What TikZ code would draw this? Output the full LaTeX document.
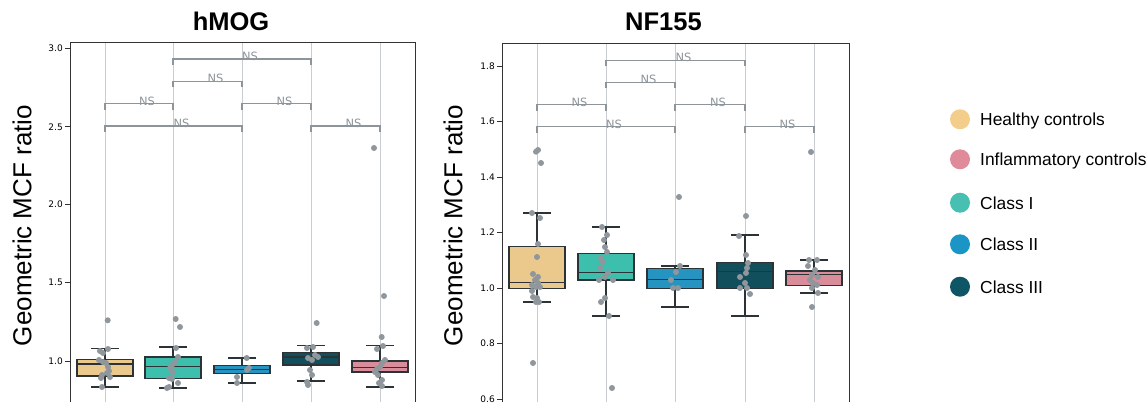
\documentclass[tikz,border=0pt]{standalone}
\usepackage{fontspec}
\setmainfont{Liberation Sans}
\newfontfamily\djv{DejaVu Sans}
\definecolor{hcfill}{HTML}{EBC98C}
\definecolor{c1fill}{HTML}{3DBFAE}
\definecolor{c2fill}{HTML}{2694C1}
\definecolor{c3fill}{HTML}{124F5C}
\definecolor{icfill}{HTML}{D98D9A}
\definecolor{lhc}{HTML}{F3CE8B}
\definecolor{lic}{HTML}{E08B99}
\definecolor{lc1}{HTML}{47BFB1}
\definecolor{lc2}{HTML}{1B94C6}
\definecolor{lc3}{HTML}{0E5566}
\definecolor{edge}{HTML}{2B3337}
\definecolor{dotgray}{HTML}{8F969C}
\definecolor{brkgray}{HTML}{8D959B}
\definecolor{gridgray}{HTML}{C9CDD1}
% one box: x, whisker top, q3, median, q1, whisker bottom, fill
\newcommand{\bxp}[7]{%
  \draw[whisk] (#1,#2) -- (#1,#3) (#1,#5) -- (#1,#6)
    (#1-14,#2) -- (#1+14,#2) (#1-14,#6) -- (#1+14,#6);
  \draw[boxln,fill=#7] (#1-28,#3) rectangle (#1+28,#5);
  \draw[boxln] (#1-28,#4) -- (#1+28,#4);}
% one bracket: x left, x right, y
\newcommand{\nsbrk}[3]{%
  \draw[brk] (#1,#3+6) -- (#1,#3) -- (#2,#3) -- (#2,#3+6);
  \node[nslbl] (ns#1x#2) at ({(#1+#2)/2},#3+1.5) {NS};}
\begin{document}
\begin{tikzpicture}[x=1pt,y=-1pt,
  whisk/.style={draw=edge,line width=1.8pt},
  boxln/.style={draw=edge,line width=1.4pt},
  brk/.style={draw=brkgray,line width=1.2pt},
  nslbl/.style={anchor=base west,inner sep=0pt,text=brkgray,font=\djv\fontsize{11.4}{12}\selectfont},
  gridln/.style={draw=gridgray,line width=1pt},
  axln/.style={draw=black!80,line width=1pt},
  tick/.style={anchor=east,inner sep=0pt,font=\djv\fontsize{9}{10}\selectfont},
  dot/.style={fill=dotgray},
  ylab/.style={rotate=90,font=\fontsize{26}{28}\selectfont},
  ttl/.style={anchor=base,font=\bfseries\fontsize{25.5}{28}\selectfont},
  leg/.style={anchor=base west,inner sep=0pt,font=\fontsize{17.4}{19}\selectfont}]
\useasboundingbox (0,0) rectangle (1148,402);
\fill[white] (0,0) rectangle (1148,402);

% hMOG panel
\foreach \x in {105,173,242,311,380} \draw[gridln] (\x,42) -- (\x,402);
\bxp{105}{348.5}{359.4}{364.1}{375.9}{386.8}{hcfill}
\bxp{173}{346.9}{357.1}{366.5}{378.2}{387.6}{c1fill}
\bxp{242}{357.9}{365.7}{369.6}{373.5}{382.9}{c2fill}
\bxp{311}{345.4}{352.4}{357.1}{364.9}{381.3}{c3fill}
\bxp{380}{345.4}{361}{367.3}{372}{386.8}{icfill}
\foreach \p in {(107.7,320.3),(108,349),(100,351),(103,353),(99,360),(103,362),(106,363),(108,367),(109,371),(107,373),(102,375),(101,378),(110,377),(102,387),
  (175.7,319),(180,327),(176,348),(178,357),(175,362),(172,365),(170,368),(173,372),(169,378),(172,379),(178,383),(169,387),(167,388),
  (246.7,358),(249,368),(247,370),(237,377),(237,383),
  (316.7,323),(313,347),(307,348),(308,358),(312,360),(315,355),(318,357),(310,370),(312,375),(307,382),(308,385),
  (374,148),(384,296),(381.7,337),(383,346),(377,349),(385,360),(382,363),(380,367),(377,369),(375,372),(378,375),(382,380),(379,383),(382,386)}
  \fill[dot] \p circle (3);
\nsbrk{173}{311}{59}
\nsbrk{173}{242}{81.3}
\nsbrk{105}{173}{103.7}
\nsbrk{242}{311}{103.7}
\nsbrk{105}{242}{126}
\nsbrk{311}{380}{126}
\draw[axln] (70,402) -- (70,42) -- (415,42) -- (415,402);
\foreach \v/\yy in {3.0/48,2.5/126.75,2.0/204.5,1.5/282.75,1.0/361}
  {\draw[axln] (65,\yy) -- (70,\yy); \node[tick] at (63,\yy) {\v};}
\node[ylab] (ylabA) at (22,225.5) {Geometric MCF ratio};
\node[ttl] (hmog) at (231,30) {hMOG};

% NF155 panel
\foreach \x in {537,606,675,745,814} \draw[gridln] (\x,43) -- (\x,402);
\bxp{537}{212.7}{246.7}{282.7}{288.3}{302.3}{hcfill}
\bxp{606}{226.7}{253.3}{272.7}{280}{315.7}{c1fill}
\bxp{675}{265.7}{268.3}{279.3}{288.3}{307.3}{c2fill}
\bxp{745}{235.3}{262.7}{271.7}{288.3}{315.7}{c3fill}
\bxp{814}{260}{271}{274.3}{285.7}{293.3}{icfill}
\foreach \p in {(536,151.7),(538,150),(541,163),(533,363),(532,213),(540,218),(538,244),(537,257),(533,274),(538,277),(535,280),(538,283),(532,285),(536,287),(540,287),(532,291),(533,297),(537,298),(536,302),(539,302),
  (602,227),(607,235),(604,240),(605,247),(607,252),(601,258),(603,262),(600,268),(608,273),(605,277),(599,280),(613,280),(605,298),(601,302),(609,316),(612,388),
  (679,197),(680,266),(676,272),(671,280),(673,288),(678,288),
  (746,216),(739,236),(746,255),(748,263),(747,268),(746,273),(740,277),(745,283),(740,288),(747,288),(750,294),
  (811,152),(809,260),(817,260),(808,266),(815,270),(812,275),(818,277),(810,280),(813,283),(817,285),(812,288),(818,293),(812,307)}
  \fill[dot] \p circle (3);
\nsbrk{606}{745}{60.3}
\nsbrk{606}{675}{82.3}
\nsbrk{537}{606}{104.7}
\nsbrk{675}{745}{104.7}
\nsbrk{537}{675}{126.7}
\nsbrk{745}{814}{126.7}
\draw[axln] (502,402) -- (502,43) -- (849,43) -- (849,402);
\foreach \v/\yy in {1.8/66,1.6/121.5,1.4/177,1.2/232.5,1.0/288,0.8/343.5,0.6/399}
  {\draw[axln] (497,\yy) -- (502,\yy); \node[tick] at (495,\yy) {\v};}
\node[ylab] (ylabB) at (453,225.5) {Geometric MCF ratio};
\node[ttl] (nf) at (663.5,30) {NF155};

% legend
\foreach \yy/\c/\t in {119.3/lhc/Healthy controls,159.3/lic/Inflammatory controls,202.7/lc1/Class I,244.3/lc2/Class II,286.7/lc3/Class III}
  {\fill[\c] (960,\yy) circle (10); \node[leg] at (980,\yy+6.5) {\t};}
\end{tikzpicture}
\end{document}
